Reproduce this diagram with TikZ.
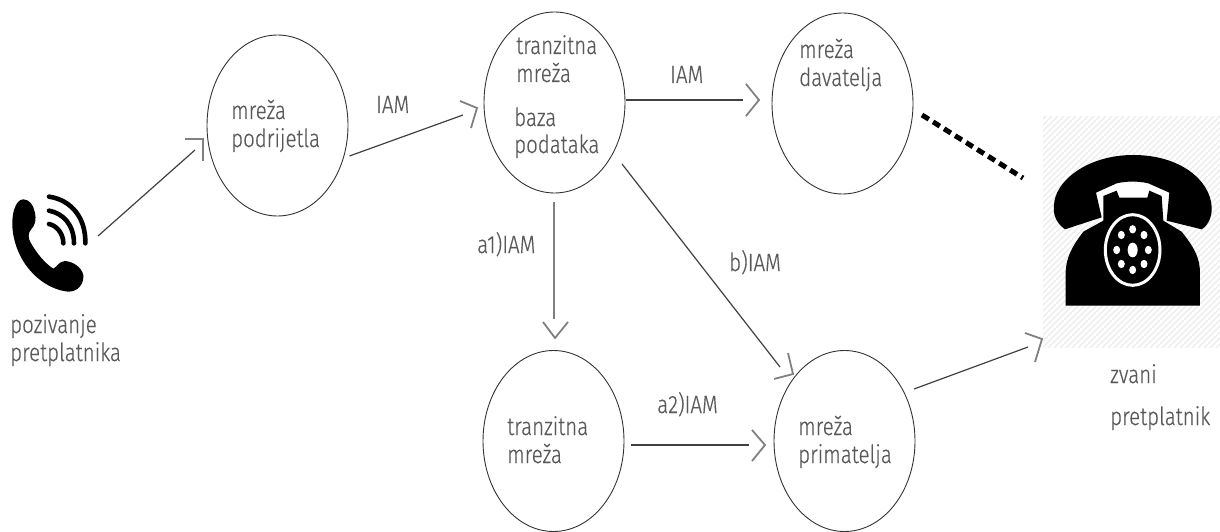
\documentclass[tikz,border=0pt]{standalone}
\usepackage{fontspec}
\setmainfont{Fira Sans}[UprightFont=* Light,FakeStretch=0.82,FakeBold=0.4]
\usetikzlibrary{shapes.geometric,calc}
\definecolor{txtc}{HTML}{595959}
\definecolor{linec}{HTML}{404040}
\definecolor{headc}{HTML}{808080}
\tikzset{
  net/.style={draw=black!80,line width=0.9pt,ellipse,inner sep=0pt,minimum width=141pt,minimum height=181pt},
  lbl/.style={text=txtc,font=\fontsize{25}{28}\selectfont,align=left,anchor=base west,inner sep=0pt},
  conn/.style={draw=linec,line width=1.2pt},
  head/.style={draw=headc,line width=1.8pt,miter limit=10},
  icon/.style={fill=black,draw=none},
  waves/.style={draw=black,line width=4.6pt,line cap=round},
  gapw/.style={draw=white,line width=3pt}
}
\begin{document}
\begin{tikzpicture}[x=1pt,y=-1pt]
\useasboundingbox (0,0) rectangle (1220,532);
% hatched backdrop of the phone
\begin{scope}
\clip (1043,117) rectangle (1220,347);
\foreach \k in {-240,-234,...,180}{\draw[black!8,line width=1.2pt] (1030+\k,360) -- (1030+\k+250,110);}
\end{scope}
% networks
\node[net] (pod) at (277.5,125.5) {};
\node[net] (tr) at (554.5,102.5) {};
\node[net] (dav) at (842.5,103.5) {};
\node[net] (trb) at (553.5,441) {};
\node[net] (prim) at (844.5,441) {};
% labels
\node[lbl] (tpod) at (231,119) {mreža};
\node[lbl] (tpod2) at (231,147) {podrijetla};
\node[lbl] (ttr) at (516,54) {tranzitna};
\node[lbl] (ttr2) at (516,82) {mreža};
\node[lbl] (tbaza) at (514,126) {baza};
\node[lbl] (tbaza2) at (514,153) {podataka};
\node[lbl] (tdav) at (799,58) {mreža};
\node[lbl] (tdav2) at (799,86) {davatelja};
\node[lbl] (ttrb) at (507,435) {tranzitna};
\node[lbl] (ttrb2) at (507,463) {mreža};
\node[lbl] (tprim) at (798,435) {mreža};
\node[lbl] (tprim2) at (798,463) {primatelja};
\node[lbl] (iam1) at (376,113) {IAM};
\node[lbl] (iam2) at (670,83) {IAM};
\node[lbl] (a1) at (477,253) {a1)IAM};
\node[lbl] (b) at (729,271) {b)IAM};
\node[lbl] (a2) at (657,413) {a2)IAM};
\node[lbl] (call1) at (10,333) {pozivanje};
\node[lbl] (call2) at (10,361) {pretplatnika};
\node[lbl] (zv1) at (1110,383) {zvani};
\node[lbl] (zv2) at (1110,425) {pretplatnik};
% connector ends
\coordinate (caller) at (98,236);
\coordinate (e1) at (195,150);
\coordinate (s2) at ($(pod)+(72,30.5)$);
\coordinate (e2) at (463,115);
\coordinate (s3) at ($(tr)+(71,-2.5)$);
\coordinate (e3) at (743,100);
\coordinate (s4) at ($(tr)+(-0.8,99.5)$);
\coordinate (e4) at (553.7,319);
\coordinate (s5) at ($(tr)+(67.5,61.5)$);
\coordinate (e5) at (780,367);
\coordinate (s6) at ($(trb)+(77.5,4)$);
\coordinate (e6) at (749,445);
\coordinate (s7) at ($(prim)+(69.5,-52)$);
\coordinate (e7) at (1028,347);
\coordinate (d1) at ($(dav)+(79.5,11.5)$);
\coordinate (d2) at (1023,178);
\draw[conn] (caller) -- (e1);
\draw[head] (185,139) -- (203,139) -- (203,161);
\draw[conn] (s2) -- (e2);
\draw[head] (460,101) -- (477,108) -- (471,128);
\draw[conn] (s3) -- (e3);
\draw[head] (746,84) -- (759,100) -- (746,116);
\draw[conn,headc,line width=1.6pt] (s4) -- (e4);
\draw[head] (543,322) -- (555,338) -- (568,322);
\draw[conn] (s5) -- (e5);
\draw[head] (788,353) -- (793,374) -- (774,379);
\draw[conn] (s6) -- (e6);
\draw[head] (752,430) -- (765,445) -- (752,461);
\draw[conn] (s7) -- (e7);
\draw[head] (1025,333) -- (1042,339) -- (1035,362);
\draw[black,line width=5pt,dash pattern=on 8pt off 5pt] (d1) -- (d2);
% calling handset
\begin{scope}[shift={(0,180)},x=0.3333pt,y=-0.3333pt]
\fill[icon] (70,58) .. controls (88,58) and (100,75) .. (104,95)
  .. controls (110,120) and (106,135) .. (92,150)
  .. controls (84,160) and (84,175) .. (92,188)
  .. controls (110,220) and (135,250) .. (160,266)
  .. controls (172,260) and (175,245) .. (195,243)
  .. controls (220,245) and (245,262) .. (250,285)
  .. controls (252,315) and (232,335) .. (205,335)
  .. controls (150,330) and (95,290) .. (65,235)
  .. controls (40,190) and (30,135) .. (42,90)
  .. controls (48,70) and (58,58) .. (70,58) -- cycle;
\draw[waves] (147,50) .. controls (215,60) and (258,115) .. (256,190);
\draw[waves] (147,92) .. controls (190,100) and (222,135) .. (222,190);
\draw[waves] (147,132) .. controls (170,137) and (190,160) .. (190,190);
\end{scope}
% called telephone
\begin{scope}[shift={(1020,100)},x=0.3333pt,y=-0.3333pt]
\fill[white] (228,278) -- (290,250) -- (385,250) -- (448,278) -- (440,362) -- (245,352) -- cycle;
\fill[icon] (135,388) .. controls (110,370) and (98,345) .. (102,315)
  .. controls (104,245) and (200,165) .. (340,165)
  .. controls (480,165) and (570,240) .. (575,320)
  .. controls (577,350) and (565,375) .. (545,388)
  -- (440,362) -- (448,278) -- (385,250)
  .. controls (355,243) and (320,243) .. (290,250)
  -- (228,278) -- (245,352) -- cycle;
\fill[icon] (250,288) -- (290,272) -- (298,293) -- (382,293) -- (388,272) -- (425,288) -- (430,362) -- (485,395)
  .. controls (520,440) and (540,470) .. (540,520) -- (540,617) -- (137,617) -- (137,520)
  .. controls (137,470) and (160,435) .. (190,395) -- (250,362) -- cycle;
\draw[gapw] (338,450) ellipse [x radius=82,y radius=106];
\fill[white] (338,450) ellipse [x radius=15,y radius=22];
\foreach \px/\py in {338/388,372/405,385/450,372/492,338/510,304/492,290/450,304/405}
  {\fill[white] (\px,\py) ellipse [x radius=10.5,y radius=12.5];}
\end{scope}
\end{tikzpicture}
\end{document}
